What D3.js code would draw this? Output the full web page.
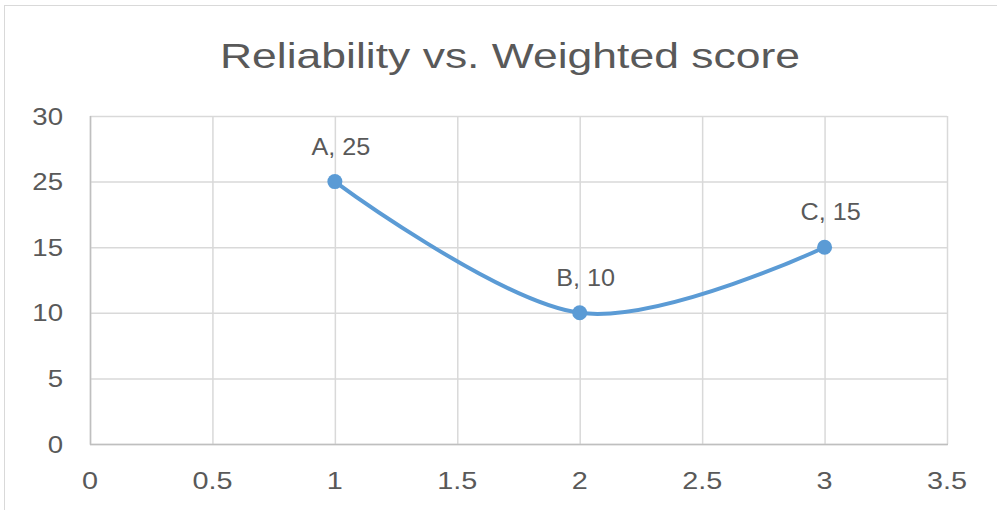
<!DOCTYPE html>
<html>
<head>
<meta charset="utf-8">
<script src="https://cdn.jsdelivr.net/npm/d3@7"></script>
<style>
  body { margin: 0; background: #fff; }
  text { font-family: "Liberation Sans", Arial, sans-serif; fill: #595959; }
</style>
</head>
<body>
<script>
const names = ["A", "B", "C"];
const xValues = [1, 2, 3];
const yValues = [25, 10, 15];
const xTicks = [0, 0.5, 1, 1.5, 2, 2.5, 3, 3.5];
// the value axis of the original has no 20 row: labels are evenly spaced
const yTicks = [0, 5, 10, 15, 25, 30];
const title = "Reliability vs. Weighted score";

const width = 997;
const height = 510;

const margin = {
    left: 90,
    right: 50,
    top: 116,
    bottom: 66
};

const stretch = 1.25;

let svg = d3.select("body").append("svg")
    .attr("width", width)
    .attr("height", height);

// outer chart border
svg.append("rect")
    .attr("x", 4.5)
    .attr("y", 5.5)
    .attr("width", width + 20)
    .attr("height", height + 20)
    .attr("fill", "none")
    .attr("stroke", "#d9d9d9")
    .attr("stroke-width", 1);

let xScale = d3.scaleLinear()
    .domain([0, 3.5])
    .range([margin.left, width - margin.right]);

let bottomY = height - margin.bottom;
let step = (bottomY - margin.top) / (yTicks.length - 1);

let yScale = d3.scaleLinear()
    .domain(yTicks)
    .range(yTicks.map((t, i) => bottomY - i * step));

// grid
svg.append("g")
    .selectAll("line")
    .data(xTicks)
    .join("line")
    .attr("x1", d => xScale(d) + 0.5)
    .attr("x2", d => xScale(d) + 0.5)
    .attr("y1", yScale(30))
    .attr("y2", yScale(0))
    .attr("stroke", "#d9d9d9")
    .attr("stroke-width", 1.5);

svg.append("g")
    .selectAll("line")
    .data(yTicks)
    .join("line")
    .attr("x1", xScale(0))
    .attr("x2", xScale(3.5))
    .attr("y1", d => yScale(d) + 0.5)
    .attr("y2", d => yScale(d) + 0.5)
    .attr("stroke", "#d9d9d9")
    .attr("stroke-width", 1.5);

// axis lines
svg.append("line")
    .attr("x1", xScale(0) + 0.5).attr("x2", xScale(0) + 0.5)
    .attr("y1", yScale(30)).attr("y2", yScale(0) + 1)
    .attr("stroke", "#bfbfbf").attr("stroke-width", 1.5);
svg.append("line")
    .attr("x1", xScale(0)).attr("x2", xScale(3.5) + 1)
    .attr("y1", yScale(0) + 0.5).attr("y2", yScale(0) + 0.5)
    .attr("stroke", "#bfbfbf").attr("stroke-width", 1.5);

// tick labels
function label(x, y, txt, anchor, size, sx) {
    svg.append("g")
        .attr("transform", `translate(${x},${y}) scale(${sx},1)`)
        .append("text")
        .attr("text-anchor", anchor)
        .style("font-size", size + "px")
        .text(txt);
}

yTicks.forEach(t => label(63, yScale(t) + 8.5, t, "end", 24, 1.15));
xTicks.forEach(t => label(xScale(t), 489, t, "middle", 24, 1.2));

// title
svg.append("text")
    .attr("x", 220)
    .attr("y", 68)
    .attr("textLength", 580)
    .attr("lengthAdjust", "spacingAndGlyphs")
    .style("font-size", "35px")
    .text(title);

// line
let points = xValues.map((x, i) => ({ x: x, y: yValues[i], name: names[i] }));

let line = d3.line()
    .curve(d3.curveCardinal.tension(0))
    .x(d => xScale(d.x))
    .y(d => yScale(d.y));

svg.append("path")
    .datum(points)
    .attr("fill", "none")
    .attr("stroke", "#5b9bd5")
    .attr("stroke-width", 4)
    .attr("stroke-linecap", "round")
    .attr("d", line);

svg.selectAll(".dot")
    .data(points)
    .join("circle")
    .attr("class", "dot")
    .attr("cx", d => xScale(d.x))
    .attr("cy", d => yScale(d.y))
    .attr("r", 7.5)
    .attr("fill", "#5b9bd5");

// data labels
points.forEach(d => label(xScale(d.x) + 6, yScale(d.y) - 27, d.name + ", " + d.y, "middle", 24, 1.05));
</script>
</body>
</html>
